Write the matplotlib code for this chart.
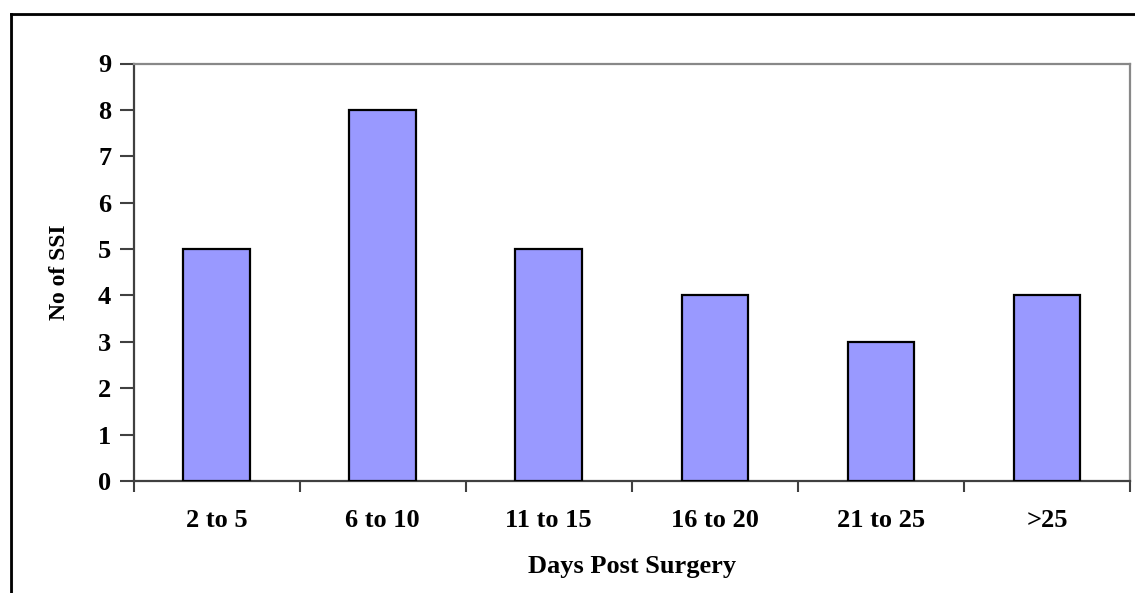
import matplotlib
matplotlib.use("Agg")
import matplotlib.pyplot as plt
from matplotlib.lines import Line2D

categories = ["2 to 5", "6 to 10", "11 to 15", "16 to 20", "21 to 25", ">25"]
ssi_counts = [5, 8, 5, 4, 3, 4]
y_ticks = [0, 1, 2, 3, 4, 5, 6, 7, 8, 9]

plt.rcParams["font.family"] = ["Liberation Serif", "DejaVu Serif"]
plt.rcParams["font.weight"] = "bold"

W, H = 1135, 593
fig = plt.figure(figsize=(W / 100, H / 100), dpi=100)
fig.patch.set_facecolor("white")

# plot area in pixel coordinates
left, right, top, bottom = 133.5, 1130, 63.5, 481
ax = fig.add_axes([left / W, 1 - bottom / H, (right - left) / W, (bottom - top) / H])

x = list(range(len(categories)))
ax.bar(x, ssi_counts, width=0.4, color="#9999FF", edgecolor="black", linewidth=1.6, zorder=3)

ax.set_xlim(-0.5, len(categories) - 0.5)
ax.set_ylim(0, 9)
ax.set_yticks(y_ticks)
ax.set_yticklabels([str(v) for v in y_ticks], fontsize=19, fontweight="bold")

# category labels at centres, tick marks at category boundaries
ax.set_xticks(x)
ax.set_xticklabels(categories, fontsize=19, fontweight="bold")
ax.tick_params(axis="x", length=0, pad=20)
ax.set_xticks([i + 0.5 for i in x[:-1]] + [-0.5, len(categories) - 0.5], minor=True)
ax.tick_params(axis="x", which="minor", length=8, width=1.5, color="#404040", direction="out")
ax.tick_params(axis="y", length=10, width=1.5, color="#404040", direction="out", pad=6)

for side in ("left", "bottom"):
    ax.spines[side].set_color("#404040")
    ax.spines[side].set_linewidth(1.6)
for side in ("top", "right"):
    ax.spines[side].set_color("#888888")
    ax.spines[side].set_linewidth(1.6)

ax.set_xlabel("Days Post Surgery", fontsize=19, fontweight="bold", labelpad=17)
ax.set_ylabel("No of SSI", fontsize=17, fontweight="bold", labelpad=20)

# outer chart frame (open on the right and bottom edges of the image)
fx0, fy0 = 10.5 / W, 1 - 13.5 / H
fig.add_artist(Line2D([fx0 + 1.5 / W, 1], [fy0 - 1.5 / H, fy0 - 1.5 / H], color="#AAAAAA", linewidth=1.5))
fig.add_artist(Line2D([fx0 + 1.5 / W, fx0 + 1.5 / W], [0, fy0 - 1.5 / H], color="#AAAAAA", linewidth=1.5))
fig.add_artist(Line2D([fx0, 1], [fy0, fy0], color="black", linewidth=2))
fig.add_artist(Line2D([fx0, fx0], [0, fy0], color="black", linewidth=2))

fig.savefig("out.png", dpi=100)
